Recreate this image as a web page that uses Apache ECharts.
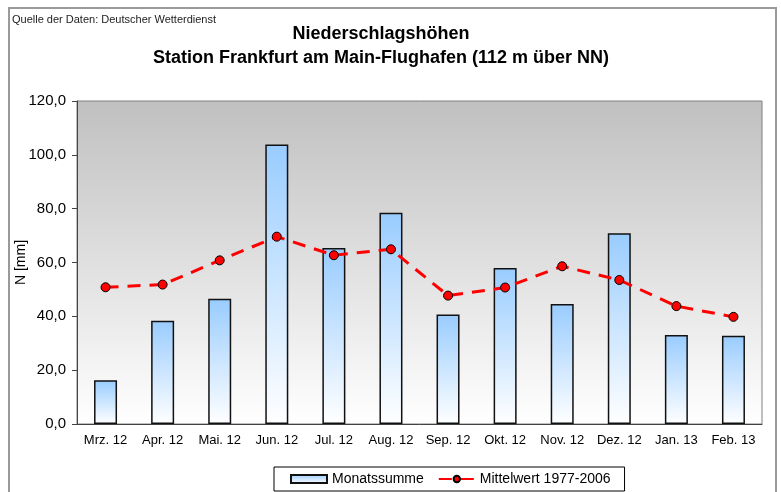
<!DOCTYPE html>
<html>
<head>
<meta charset="utf-8">
<script src="https://cdn.jsdelivr.net/npm/echarts@6/dist/echarts.min.js"></script>
<style>
  html, body { margin: 0; padding: 0; background: #fff; }
  #main { width: 781px; height: 492px; }
</style>
</head>
<body>
<div id="main"></div>
<script>
(function() {
  const months = ['Mrz. 12', 'Apr. 12', 'Mai. 12', 'Jun. 12', 'Jul. 12', 'Aug. 12',
    'Sep. 12', 'Okt. 12', 'Nov. 12', 'Dez. 12', 'Jan. 13', 'Feb. 13'];
  const monatssumme = [16.3, 38.4, 46.5, 103.8, 65.4, 78.5, 40.7, 58.0, 44.6, 70.9, 33.1, 32.8];
  const mittelwert = [50.8, 51.8, 60.8, 69.6, 62.7, 64.9, 47.7, 50.7, 58.6, 53.5, 43.8, 39.8];

  const myChart = echarts.init(document.getElementById('main'));
  const font = 'Liberation Sans, Arial, sans-serif';

  const option = {
    animation: false,
    textStyle: { fontFamily: font },
    graphic: [{
      type: 'rect',
      shape: { x: 9, y: 8, width: 767, height: 510 },
      style: { fill: 'none', stroke: '#9a9a9a', lineWidth: 2 },
      z: -1
    }],
    title: [{
      text: 'Quelle der Daten: Deutscher Wetterdienst',
      left: 12, top: 14, padding: 0,
      textStyle: { fontSize: 11, fontWeight: 'normal', color: '#222', fontFamily: font }
    }, {
      text: 'Niederschlagshöhen\nStation Frankfurt am Main-Flughafen (112 m über NN)',
      left: 381, top: 22, padding: 0, textAlign: 'center',
      textStyle: { fontSize: 18, fontWeight: 'bold', color: '#000', lineHeight: 24, fontFamily: font }
    }],
    legend: {
      bottom: 1, left: 274,
      padding: [5, 14, 5, 16],
      itemGap: 14,
      itemWidth: 36, itemHeight: 8,
      borderColor: '#000', borderWidth: 1,
      backgroundColor: '#fff',
      textStyle: { fontSize: 14, color: '#000', fontFamily: font },
      data: [{ name: 'Monatssumme', icon: 'rect' }, 'Mittelwert 1977-2006']
    },
    grid: {
      left: 77, right: 19, top: 101, bottom: 68,
      outerBoundsMode: 'none',
      show: true,
      borderColor: '#808080', borderWidth: 1,
      backgroundColor: new echarts.graphic.LinearGradient(0, 0, 0, 1, [
        { offset: 0, color: '#c0c0c0' },
        { offset: 1, color: '#ffffff' }
      ])
    },
    xAxis: {
      type: 'category',
      data: months,
      axisLine: { lineStyle: { color: '#444', width: 1 } },
      axisTick: { length: 4, lineStyle: { color: '#444' } },
      axisLabel: { color: '#000', fontSize: 13, margin: 10, interval: 0, fontFamily: font }
    },
    yAxis: {
      type: 'value',
      min: 0, max: 120, interval: 20,
      name: 'N [mm]',
      nameLocation: 'middle',
      nameGap: 49,
      nameMoveOverlap: false,
      nameTextStyle: { fontSize: 14, color: '#000', fontFamily: font },
      axisLine: { show: true, lineStyle: { color: '#444' } },
      axisTick: { show: true, length: 5, lineStyle: { color: '#444' } },
      splitLine: { show: false },
      axisLabel: {
        color: '#000', fontSize: 15, margin: 11, fontFamily: font,
        formatter: function (v) { return v.toFixed(1).replace('.', ','); }
      }
    },
    series: [{
      name: 'Monatssumme',
      type: 'bar',
      data: monatssumme,
      barWidth: 23,
      itemStyle: {
        borderColor: '#111', borderWidth: 1.5,
        color: new echarts.graphic.LinearGradient(0, 0, 0, 1, [
          { offset: 0, color: '#99ccff' },
          { offset: 1, color: '#ffffff' }
        ])
      }
    }, {
      name: 'Mittelwert 1977-2006',
      type: 'line',
      data: mittelwert,
      symbol: 'circle',
      symbolSize: 9,
      lineStyle: { color: '#ff0000', width: 3, type: [13, 9] },
      itemStyle: { color: '#ff0000', borderColor: '#000', borderWidth: 1 }
    }]
  };

  myChart.setOption(option);
})();
</script>
</body>
</html>
